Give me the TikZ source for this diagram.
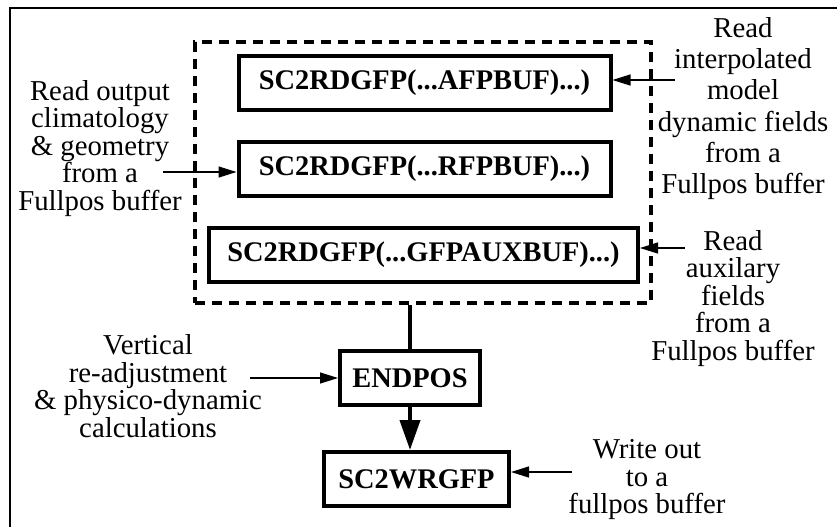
\documentclass[tikz,border=0pt]{standalone}
\usepackage{fontspec}
\setmainfont{Liberation Serif}
\usetikzlibrary{arrows.meta}

\begin{document}
\begin{tikzpicture}[x=0.5pt, y=-0.5pt,
  prog/.style = {draw, line width=2pt, font=\fontsize{14.2}{14}\selectfont\bfseries, inner sep=0pt, minimum height=27pt},
  note/.style = {align=center, font=\fontsize{14.4}{13.75}\selectfont, inner sep=0pt},
  feed/.style = {-{Triangle[length=9pt, width=5.5pt]}, line width=0.6pt}]
\useasboundingbox (0,0) rectangle (837,526);
\draw[line width=1pt] (10,527) -- (10,8) -- (838,8);

% reads from the buffers
\node[draw, dash pattern=on 5pt off 3.5pt, line width=1.9pt, minimum width=228pt, minimum height=130.5pt] (grp) at (423,172.5) {};
\node[prog, minimum width=186pt] (afp) at (424.5,82.5) {SC2RDGFP(...AFPBUF)...)};
\node[prog, minimum width=186pt] (rfp) at (424.5,169) {SC2RDGFP(...RFPBUF)...)};
\node[prog, minimum width=214.5pt] (aux) at (423.5,255) {SC2RDGFP(...GFPAUXBUF)...)};

% post-processing and write
\node[prog, minimum width=70pt] (endpos) at (410,378) {ENDPOS};
\node[prog, minimum width=92.5pt] (wrgfp) at (416.5,479) {SC2WRGFP};
\draw[line width=2pt] (endpos.north) -- (endpos.north |- grp.south);
\draw[line width=2pt, -{Triangle[length=15pt, width=10pt]}] (endpos.south) -- (endpos.south |- wrgfp.north);

% comments
\node[note] (tclim) at (100,148.5) {Read output\\climatology\\\& geometry\\from a\\Fullpos buffer};
\node[note, font=\fontsize{14.4}{15.6}\selectfont] (tdyn) at (743,108.5) {Read\\interpolated\\model\\dynamic fields\\from a\\Fullpos buffer};
\node[note] (taux) at (733,298.5) {Read\\auxilary\\fields\\from a\\Fullpos buffer};
\node[note] (tvert) at (148,386) {Vertical\\re-adjustment\\\& physico-dynamic\\calculations};
\node[note] (twrite) at (647,480) {Write out\\to a\\fullpos buffer};

\coordinate (sclim) at (163,172);
\coordinate (sdyn) at (675,80);
\coordinate (saux) at (685,248);
\coordinate (svert) at (250,378);
\coordinate (swrite) at (572,472);
\foreach \s/\t in {sclim/rfp.west, sdyn/afp.east, saux/aux.east, svert/endpos.west, swrite/wrgfp.east}
  {\draw[feed] (\s) -- (\s -| \t);}
\end{tikzpicture}
\end{document}
